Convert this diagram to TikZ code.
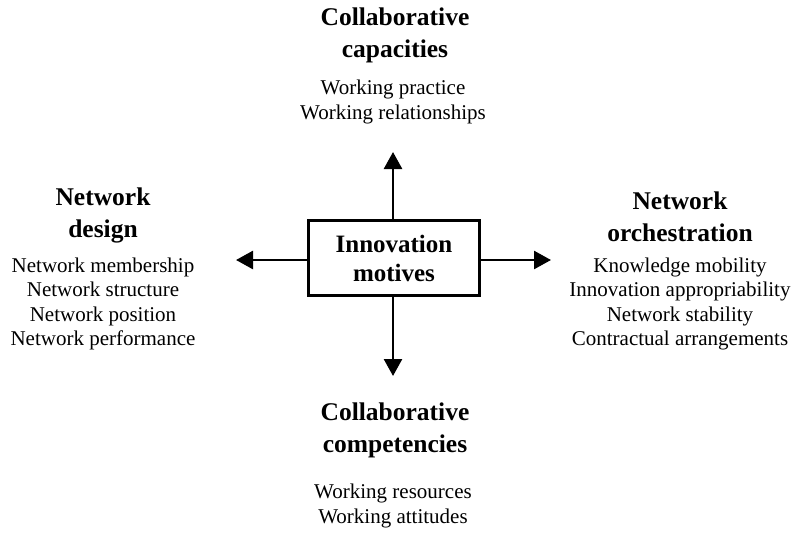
\documentclass[tikz,border=0pt]{standalone}
\usepackage{fontspec}
\setmainfont{Liberation Serif}
\usetikzlibrary{arrows.meta}
\tikzset{
  head/.style={font=\fontsize{25.5}{32}\selectfont\bfseries, align=center, inner sep=0pt},
  items/.style={font=\fontsize{21}{24.5}\selectfont, align=center, inner sep=0pt},
  arr/.style={line width=2.6pt, -{Triangle[length=17pt,width=18pt]}}
}
\begin{document}
\begin{tikzpicture}[x=1pt,y=-1pt]
        \useasboundingbox (0,0) rectangle (795,533);
        \node[draw, line width=3pt, minimum width=171pt, minimum height=75pt,
              font=\fontsize{25}{29}\selectfont\bfseries, align=center, inner sep=0pt] (im) at (394,258) {Innovation\\motives};
        \node[head] (cc) at (395,35) {Collaborative\\capacities};
        \node[items] (ccl) at (393,102) {Working practice\\Working relationships};
        \node[head] (nd) at (103,215) {Network\\design};
        \node[items] (ndl) at (103,304) {Network membership\\Network structure\\Network position\\Network performance};
        \node[head] (no) at (680,217) {Network\\orchestration};
        \node[items] (nol) at (680,304) {Knowledge mobility\\Innovation appropriability\\Network stability\\Contractual arrangements};
        \node[head] (cp) at (395,430) {Collaborative\\competencies};
        \node[items] (cpl) at (393,506) {Working resources\\Working attitudes};
        \coordinate (up) at (393,152);
        \coordinate (down) at (393,376);
        \coordinate (left) at (236,260);
        \coordinate (right) at (551,260);
        \draw[arr] (im.north -| up) -- (up);
        \draw[arr] (im.south -| down) -- (down);
        \draw[arr] (im.west |- left) -- (left);
        \draw[arr] (im.east |- right) -- (right);
    \end{tikzpicture}
\end{document}
